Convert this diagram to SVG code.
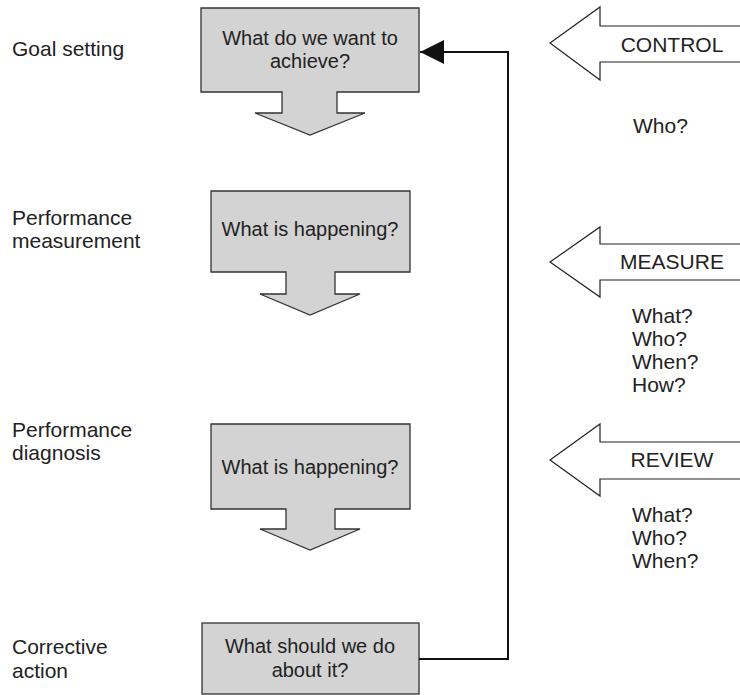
<svg xmlns="http://www.w3.org/2000/svg" width="740" height="695" viewBox="0 0 740 695">
<style>
  .box { fill: #d3d3d3; stroke: #333; stroke-width: 1.3; }
  .open { fill: #fff; stroke: #222; stroke-width: 1.2; }
  .lbl { font-family: "Liberation Sans", Arial, sans-serif; font-size: 21px; fill: #222; }
  .bt { font-family: "Liberation Sans", Arial, sans-serif; font-size: 20px; fill: #222; text-anchor: middle; }
  .rt { font-family: "Liberation Sans", Arial, sans-serif; font-size: 21px; fill: #222; }
  .conn { fill: none; stroke: #111; stroke-width: 2; }
</style>
<defs>
  <marker id="ah" markerUnits="userSpaceOnUse" markerWidth="24" markerHeight="24" viewBox="0 0 22 22" refX="22" refY="11" orient="auto">
    <path d="M0,0 L22,11 L0,22 Z" fill="#111"/>
  </marker>
</defs>
<rect width="740" height="695" fill="#fff"/>

<g id="label-goal">
  <text class="lbl" x="12" y="56">Goal setting</text>
</g>
<g id="label-measurement">
  <text class="lbl" x="12" y="225">Performance</text>
  <text class="lbl" x="12" y="248">measurement</text>
</g>
<g id="label-diagnosis">
  <text class="lbl" x="12" y="437">Performance</text>
  <text class="lbl" x="12" y="460">diagnosis</text>
</g>
<g id="label-corrective">
  <text class="lbl" x="12" y="654">Corrective</text>
  <text class="lbl" x="12" y="678">action</text>
</g>

<g id="box-goal">
  <path class="box" d="M201,8 H419 V92 H337 V113 H365 L310,135 L255,113 H282 V92 H201 Z"/>
  <text class="bt" x="310" y="45">What do we want to</text>
  <text class="bt" x="310" y="68">achieve?</text>
</g>
<g id="box-measurement">
  <path class="box" d="M211,191 H410 V272 H335 V294 H360 L310,315 L260,294 H286 V272 H211 Z"/>
  <text class="bt" x="310" y="236">What is happening?</text>
</g>
<g id="box-diagnosis">
  <path class="box" d="M211,424 H410 V509 H335 V529 H360 L310,550 L260,529 H286 V509 H211 Z"/>
  <text class="bt" x="310" y="474">What is happening?</text>
</g>
<g id="box-corrective">
  <rect class="box" x="202" y="623" width="217" height="71"/>
  <text class="bt" x="310" y="653">What should we do</text>
  <text class="bt" x="310" y="677">about it?</text>
</g>

<g id="control">
  <path class="open" d="M740,26 H600 V7 L550,43 L600,80 V62 H740"/>
  <text class="rt" x="672" y="52" text-anchor="middle">CONTROL</text>
  <text class="rt" x="633" y="133">Who?</text>
</g>
<g id="measure">
  <path class="open" d="M740,244 H600 V227 L550,262 L600,297 V280 H740"/>
  <text class="rt" x="672" y="269" text-anchor="middle">MEASURE</text>
  <text class="rt" x="632" y="323">What?</text>
  <text class="rt" x="632" y="346">Who?</text>
  <text class="rt" x="632" y="369">When?</text>
  <text class="rt" x="632" y="392">How?</text>
</g>
<g id="review">
  <path class="open" d="M740,442 H600 V424 L550,460 L600,496 V479 H740"/>
  <text class="rt" x="672" y="467" text-anchor="middle">REVIEW</text>
  <text class="rt" x="632" y="522">What?</text>
  <text class="rt" x="632" y="545">Who?</text>
  <text class="rt" x="632" y="568">When?</text>
</g>

<g id="connectors">
  <path class="conn" d="M419,659 H508 V52 H420" marker-end="url(#ah)"/>
</g>
</svg>
